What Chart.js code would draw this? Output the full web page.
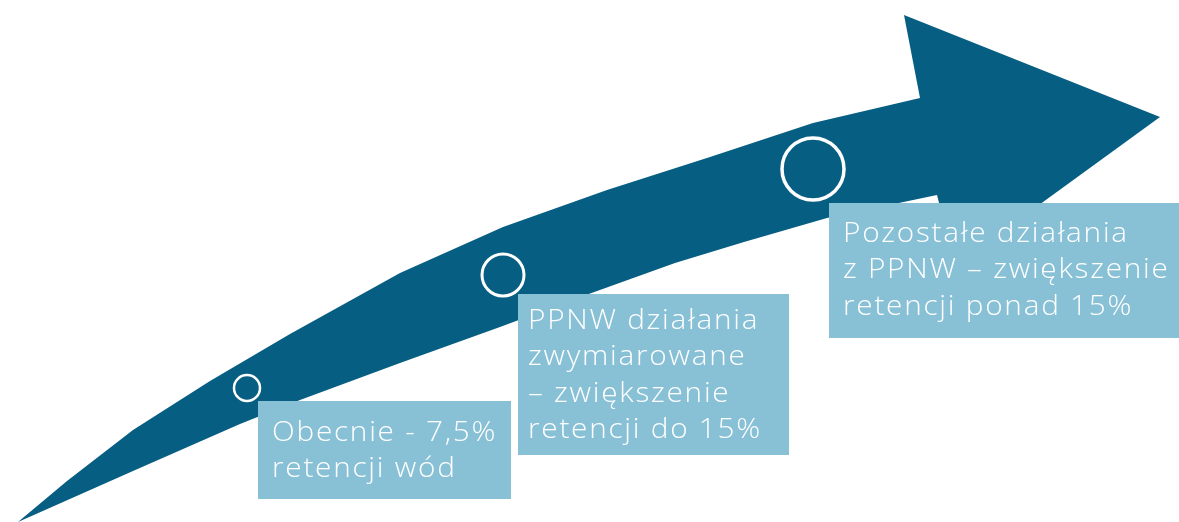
<!DOCTYPE html>
<html>
<head>
<meta charset="utf-8">
<script src="https://cdn.jsdelivr.net/npm/chart.js@4"></script>
<style>
  html, body { margin: 0; padding: 0; background: #fff; }
  #wrap { width: 1179px; height: 522px; }
</style>
</head>
<body>
<div id="wrap"><canvas id="chart" width="1179" height="522"></canvas></div>
<script>
// arrow outline (x right, y down)
// upper edge -> arrow head -> lower edge back to the tail
const arrowX = [18, 67, 133, 210, 290, 400, 503, 607, 710, 813, 920,
  904, 1160, 955,
  937, 827, 744, 675, 586, 500, 400, 300, 240, 133, 18];
const arrowY = [522, 481, 430, 381, 334, 273, 227, 190, 157, 123, 98,
  15, 117, 266,
  195, 218, 242, 263, 295, 327, 363, 400, 424, 471, 522];

// the three stages
const stageX = [247, 503, 813];
const stageY = [388, 275, 169];
const retention = [7.5, 15, 15];
const stageText = [
  ["Obecnie - 7,5%", "retencji wód"],
  ["PPNW działania", "zwymiarowane", "– zwiększenie", "retencji do 15%"],
  ["Pozostałe działania", "z PPNW – zwiększenie", "retencji ponad 15%"],
];

// label boxes (layout only)
const boxes = [
  { x0: 258, y0: 401, x1: 511, y1: 499, pad: 14, first: 40 },
  { x0: 518, y0: 294, x1: 789, y1: 455, pad: 10, first: 35 },
  { x0: 829, y0: 203, x1: 1179, y1: 338, pad: 14, first: 39 },
];

const DARK = "#075E83";
const LIGHT = "#88C0D6";

const labelBoxes = {
  id: "labelBoxes",
  afterDatasetsDraw(chart) {
    const { ctx, scales: { x, y } } = chart;
    boxes.forEach((b, i) => {
      const left = x.getPixelForValue(b.x0);
      const right = x.getPixelForValue(b.x1);
      const top = y.getPixelForValue(b.y0);
      const bottom = y.getPixelForValue(b.y1);
      ctx.save();
      ctx.fillStyle = LIGHT;
      ctx.fillRect(left, top, right - left, bottom - top);
      ctx.fillStyle = "#fff";
      ctx.font = '300 27px "Open Sans", "Lato", sans-serif';
      ctx.letterSpacing = "1.6px";
      ctx.textBaseline = "alphabetic";
      stageText[i].forEach((line, j) => {
        ctx.save();
        ctx.translate(left + b.pad, top + b.first + j * 36.3);
        ctx.scale(1.1, 1);
        ctx.fillText(line, 0, 0);
        ctx.restore();
      });
      ctx.restore();
    });
  },
};

new Chart(document.getElementById("chart"), {
  type: "scatter",
  data: {
    datasets: [
      {
        label: "etapy",
        data: stageX.map((v, i) => ({ x: v, y: stageY[i], r: retention[i] })),
        pointRadius: [13, 21, 31],
        pointBorderWidth: [2.5, 3, 3.5],
        pointBorderColor: "#fff",
        pointBackgroundColor: "rgba(0,0,0,0)",
        showLine: false,
        order: 0,
      },
      {
        label: "strzałka",
        data: arrowX.map((v, i) => ({ x: v, y: arrowY[i] })),
        showLine: true,
        fill: "shape",
        tension: 0,
        borderWidth: 0,
        borderColor: DARK,
        backgroundColor: DARK,
        pointRadius: 0,
        order: 1,
      },
    ],
  },
  options: {
    responsive: false,
    animation: false,
    layout: { padding: 0, autoPadding: false },
    plugins: { legend: { display: false }, tooltip: { enabled: false } },
    scales: {
      x: { type: "linear", min: 0, max: 1179, display: false },
      y: { type: "linear", min: 0, max: 522, reverse: true, display: false },
    },
  },
  plugins: [labelBoxes],
});
</script>
</body>
</html>
